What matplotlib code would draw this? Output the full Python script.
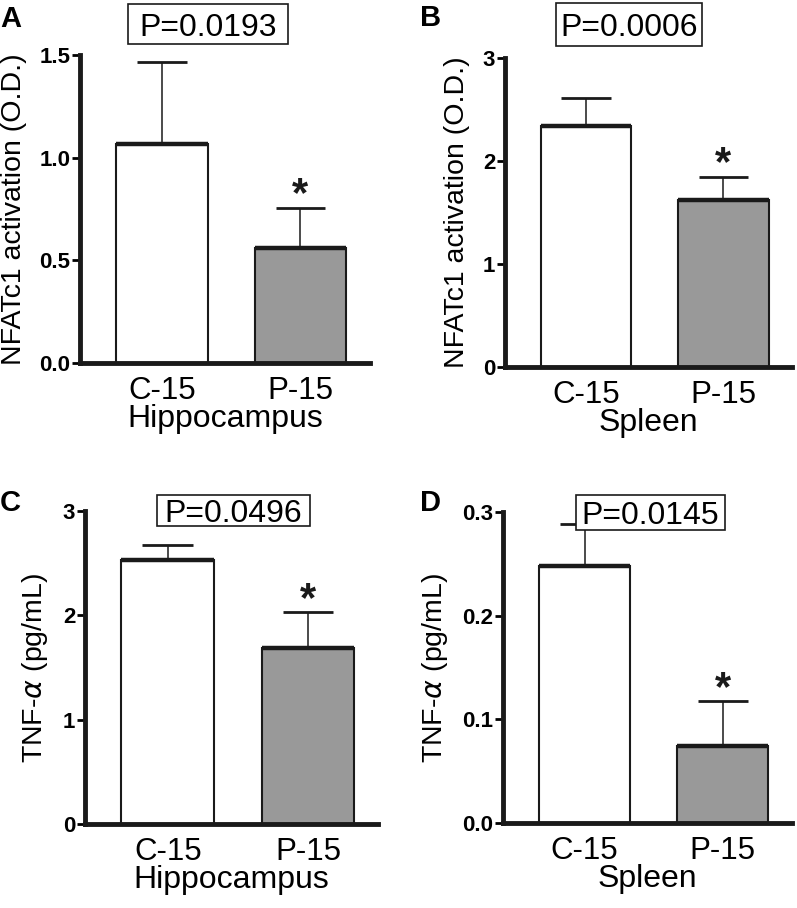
import numpy as np
from matplotlib import pyplot as plt
from matplotlib.patches import Rectangle

plt.rcParams['font.family'] = ['Liberation Sans', 'DejaVu Sans']

# data
groups = ["C-15", "P-15"]
nfat_hippo = [1.066, 0.56]
nfat_hippo_err = [0.40, 0.195]
nfat_spleen = [2.34, 1.62]
nfat_spleen_err = [0.27, 0.23]
tnf_hippo = [2.53, 1.69]
tnf_hippo_err = [0.14, 0.34]
tnf_spleen = [0.248, 0.0743]
tnf_spleen_err = [0.040, 0.043]
pvals = ["P=0.0193", "P=0.0006", "P=0.0496", "P=0.0145"]

colors = ["white", "#999999"]
x = np.arange(len(groups))
bar_w = 0.66
cap = 0.18
W, H = 797, 908


def panel(ax, means, errs, yticks, ticklabels, ylabel, xlabel, pval, box):
    # bars with thin sides and thick top edge
    ax.bar(x, means, width=bar_w, color=colors, edgecolor="#1a1a1a", linewidth=1.5, zorder=2)
    ax.hlines(means, x - bar_w / 2, x + bar_w / 2, color="#1a1a1a", lw=3.2, zorder=3)
    # upward-only error bars
    tops = np.array(means) + np.array(errs)
    ax.vlines(x, means, tops, color="#1a1a1a", lw=1.1, zorder=1)
    ax.hlines(tops, x - cap, x + cap, color="#1a1a1a", lw=2.0, zorder=3)
    # significance star on the treated group
    ax.annotate("*", (x[1], tops[1]), xytext=(0, 9), textcoords="offset points",
                ha="center", va="center", fontsize=30, fontweight="bold", color="#1a1a1a")

    ax.set_xlim(-0.59, 1.5)
    ax.set_ylim(0, yticks[-1])
    ax.set_yticks(yticks)
    ax.set_yticklabels(ticklabels, fontsize=16, fontweight="bold")
    ax.set_xticks(x)
    ax.set_xticklabels(groups, fontsize=22.5)
    ax.tick_params(axis="x", length=0, pad=9)
    ax.tick_params(axis="y", length=6, width=2, pad=1)
    ax.set_xlabel(xlabel, fontsize=23, labelpad=-1)
    ax.set_ylabel(ylabel, fontsize=20.5, labelpad=9)
    for s in ["top", "right"]:
        ax.spines[s].set_visible(False)
    for s in ["left", "bottom"]:
        ax.spines[s].set_linewidth(3.5)
        ax.spines[s].set_color("#1a1a1a")

    # p-value box (pixel centre and size)
    cx, cy, bw, bh = box
    fig.patches.append(Rectangle(((cx - bw / 2) / W, 1 - (cy + bh / 2) / H), bw / W, bh / H,
                                 transform=fig.transFigure, fc="white", ec="#1a1a1a",
                                 lw=1.2, zorder=5))
    fig.text(cx / W, 1 - cy / H, pval, ha="center", va="center_baseline", fontsize=23, zorder=6)
    return ax


fig = plt.figure(figsize=(7.97, 9.08), dpi=100)

axA = fig.add_axes([0.1004, 0.6002, 0.3636, 0.3392])
panel(axA, nfat_hippo, nfat_hippo_err, [0, 0.5, 1.0, 1.5], ["0.0", "0.5", "1.0", "1.5"],
      "NFATc1 activation (O.D.)", "Hippocampus", pvals[0], (208, 24, 160, 40))
axB = fig.add_axes([0.6336, 0.5958, 0.3601, 0.3402])
panel(axB, nfat_spleen, nfat_spleen_err, [0, 1, 2, 3], ["0", "1", "2", "3"],
      "NFATc1 activation (O.D.)", "Spleen", pvals[1], (629, 24, 146, 43))
axC = fig.add_axes([0.1066, 0.0925, 0.3677, 0.3447])
panel(axC, tnf_hippo, tnf_hippo_err, [0, 1, 2, 3], ["0", "1", "2", "3"],
      r"TNF-$\alpha$ (pg/mL)", "Hippocampus", pvals[2], (233, 510, 153, 31))
axD = fig.add_axes([0.6311, 0.0936, 0.3626, 0.3425])
panel(axD, tnf_spleen, tnf_spleen_err, [0, 0.1, 0.2, 0.3], ["0.0", "0.1", "0.2", "0.3"],
      r"TNF-$\alpha$ (pg/mL)", "Spleen", pvals[3], (650, 512, 149, 35))

# panel letters
for lbl, (px, py) in zip("ABCD", [(0.0, 0.994), (0.527, 0.996), (0.0, 0.462), (0.527, 0.462)]):
    fig.text(px, py, lbl, fontsize=21, fontweight="bold", ha="left", va="top")

fig.savefig("out.png", dpi=100)
